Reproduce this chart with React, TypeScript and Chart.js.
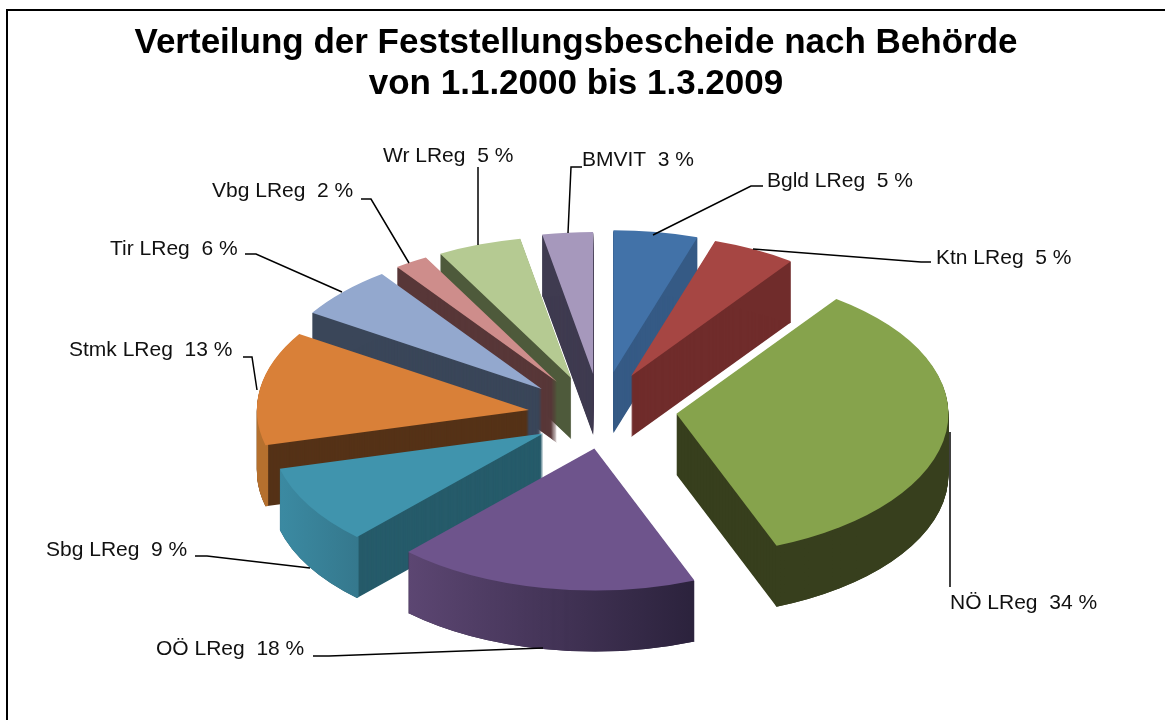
import React, { useEffect, useRef } from "react";
import Chart from "chart.js/auto";

const categories = ["Bgld LReg", "Ktn LReg", "NÖ LReg", "OÖ LReg", "Sbg LReg", "Stmk LReg", "Tir LReg", "Vbg LReg", "Wr LReg", "BMVIT"];
const shares = [5, 5, 34, 18, 9, 13, 6, 2, 5, 3];
const titleLines = ["Verteilung der Feststellungsbescheide nach Behörde", "von 1.1.2000 bis 1.3.2009"];

const topColors = ["#4272A8", "#A64643", "#86A34C", "#6E548C", "#4094AD", "#D98038", "#93A8CE", "#CE8D8B", "#B5CA92", "#A698BC"];
const sideColors = ["#355A85", "#702C2B", "#373F1D", "#2D2340", "#265B6A", "#553217", "#3A4659", "#583738", "#4E5A3B", "#3F3B50"];
const wallLeft = ["#355A85", "#702C2B", "#373F1D", "#5C4672", "#3B8AA2", "#B5702E", "#3A4659", "#583738", "#4E5A3B", "#3F3B50"];
const wallRight = ["#355A85", "#702C2B", "#373F1D", "#2B223C", "#35788D", "#A86A2B", "#3A4659", "#583738", "#4E5A3B", "#3F3B50"];

// Look of the fake 3-D view.
const CX = 602, CY = 410, RX = 272, RY = 142, EXPLODE = 73, DEPTH = 61;
// Small per-slice corrections for the reference's perspective, in page pixels.
const perspectiveShift: [number, number][] = [[0, 0], [-4, 0], [2, -1], [6, 1], [4, 4], [-1, 6], [-7, 5], [-6, 4], [-6, 4], [-2, 2]];

// Where each label and its leader line sit on the page.
const labelAt: [number, number][] = [[767, 181], [936, 258], [950, 603], [156, 649], [46, 550], [69, 350], [110, 249], [212, 191], [383, 156], [582, 160]];
const leaders: [number, number][][] = [
  [[763, 186], [751, 186], [653, 235]],
  [[931, 262], [921, 262], [753, 249]],
  [[950, 587], [950, 432]],
  [[313, 656], [329, 656], [543, 648]],
  [[195, 556], [207, 556], [310, 568]],
  [[243, 357], [252, 357], [257, 390]],
  [[245, 254], [256, 254], [342, 292]],
  [[361, 199], [371, 199], [409, 263]],
  [[478, 167], [478, 245]],
  [[582, 167], [571, 167], [568, 233]],
];

const flatOptions = (color: any) => ({
  backgroundColor: color,
  borderColor: color,
  borderWidth: 0,
  borderAlign: "center",
  borderRadius: 0,
  offset: 0,
  spacing: 0,
  circular: true,
});

const pie3d = {
  id: "pie3d",
  beforeDatasetsDraw(chart: any) {
    const ctx = chart.ctx;
    const k = RY / RX;
    const arcs = chart.getDatasetMeta(0).data.map((arc: any, index: number) => ({ arc, index }));
    const midOf = (a: any) => (a.startAngle + a.endAngle) / 2;
    arcs.sort((p: any, q: any) => Math.sin(midOf(p.arc)) - Math.sin(midOf(q.arc)));
    ctx.save();
    ctx.translate(CX, CY);
    ctx.scale(1, k);
    ctx.translate(-arcs[0].arc.x, -arcs[0].arc.y);
    for (const { arc, index } of arcs) {
      const mid = midOf(arc);
      const [sx, sy] = perspectiveShift[index];
      ctx.save();
      ctx.translate(Math.cos(mid) * EXPLODE + sx, Math.sin(mid) * EXPLODE + sy / k);
      const x1 = arc.x + Math.cos(arc.startAngle) * arc.outerRadius;
      const x2 = arc.x + Math.cos(arc.endAngle) * arc.outerRadius;
      const grad = ctx.createLinearGradient(Math.min(x1, x2), 0, Math.max(x1, x2) + 1, 0);
      grad.addColorStop(0, wallLeft[index]);
      grad.addColorStop(1, wallRight[index]);
      const side = Object.create(arc);
      side.options = flatOptions(sideColors[index]);
      const band = Object.create(arc);
      band.options = flatOptions(grad);
      band.innerRadius = arc.outerRadius - 3;
      for (const layer of [side, band]) {
        for (let dy = DEPTH; dy >= 1; dy--) {
          ctx.save();
          ctx.translate(0, dy / k);
          layer.draw(ctx);
          ctx.restore();
        }
      }
      arc.draw(ctx);
      ctx.restore();
    }
    ctx.restore();
    return false;
  },
  afterDraw(chart: any) {
    const ctx = chart.ctx;
    ctx.save();
    ctx.strokeStyle = "#000000";
    ctx.lineWidth = 1.5;
    leaders.forEach((pts) => {
      ctx.beginPath();
      pts.forEach(([x, y], i) => (i ? ctx.lineTo(x, y) : ctx.moveTo(x, y)));
      ctx.stroke();
    });
    ctx.fillStyle = "#111111";
    ctx.font = '21px "Liberation Sans"';
    ctx.textAlign = "left";
    ctx.textBaseline = "middle";
    categories.forEach((c, i) => {
      ctx.fillText(`${c}  ${shares[i]} %`, labelAt[i][0], labelAt[i][1]);
    });
    ctx.restore();
  },
};

export default function App() {
  const ref = useRef<HTMLCanvasElement>(null);
  useEffect(() => {
    const chart = new Chart(ref.current!, {
      type: "pie",
      data: {
        labels: categories,
        datasets: [{ data: shares, backgroundColor: topColors, borderWidth: 0, radius: RX } as any],
      },
      options: {
        animation: false,
        responsive: false,
        events: [],
        layout: { padding: 0 },
        plugins: {
          legend: { display: false },
          tooltip: { enabled: false },
          title: {
            display: true,
            text: titleLines,
            color: "#000000",
            font: { family: '"Liberation Sans"', size: 35, weight: "bold", lineHeight: 1.17 },
            padding: { top: 23, bottom: 10 },
          },
        },
      },
      plugins: [pie3d as any],
    });
    return () => chart.destroy();
  }, []);
  return (
    <div style={{ position: "fixed", inset: 0, background: "#fff", overflow: "hidden" }}>
      <div style={{ position: "absolute", left: 6, top: 9, right: 0, bottom: 0, borderLeft: "2px solid #000", borderTop: "2px solid #000" }} />
      <canvas ref={ref} width={1152} height={720} style={{ position: "absolute", left: 0, top: 0 }} />
    </div>
  );
}
